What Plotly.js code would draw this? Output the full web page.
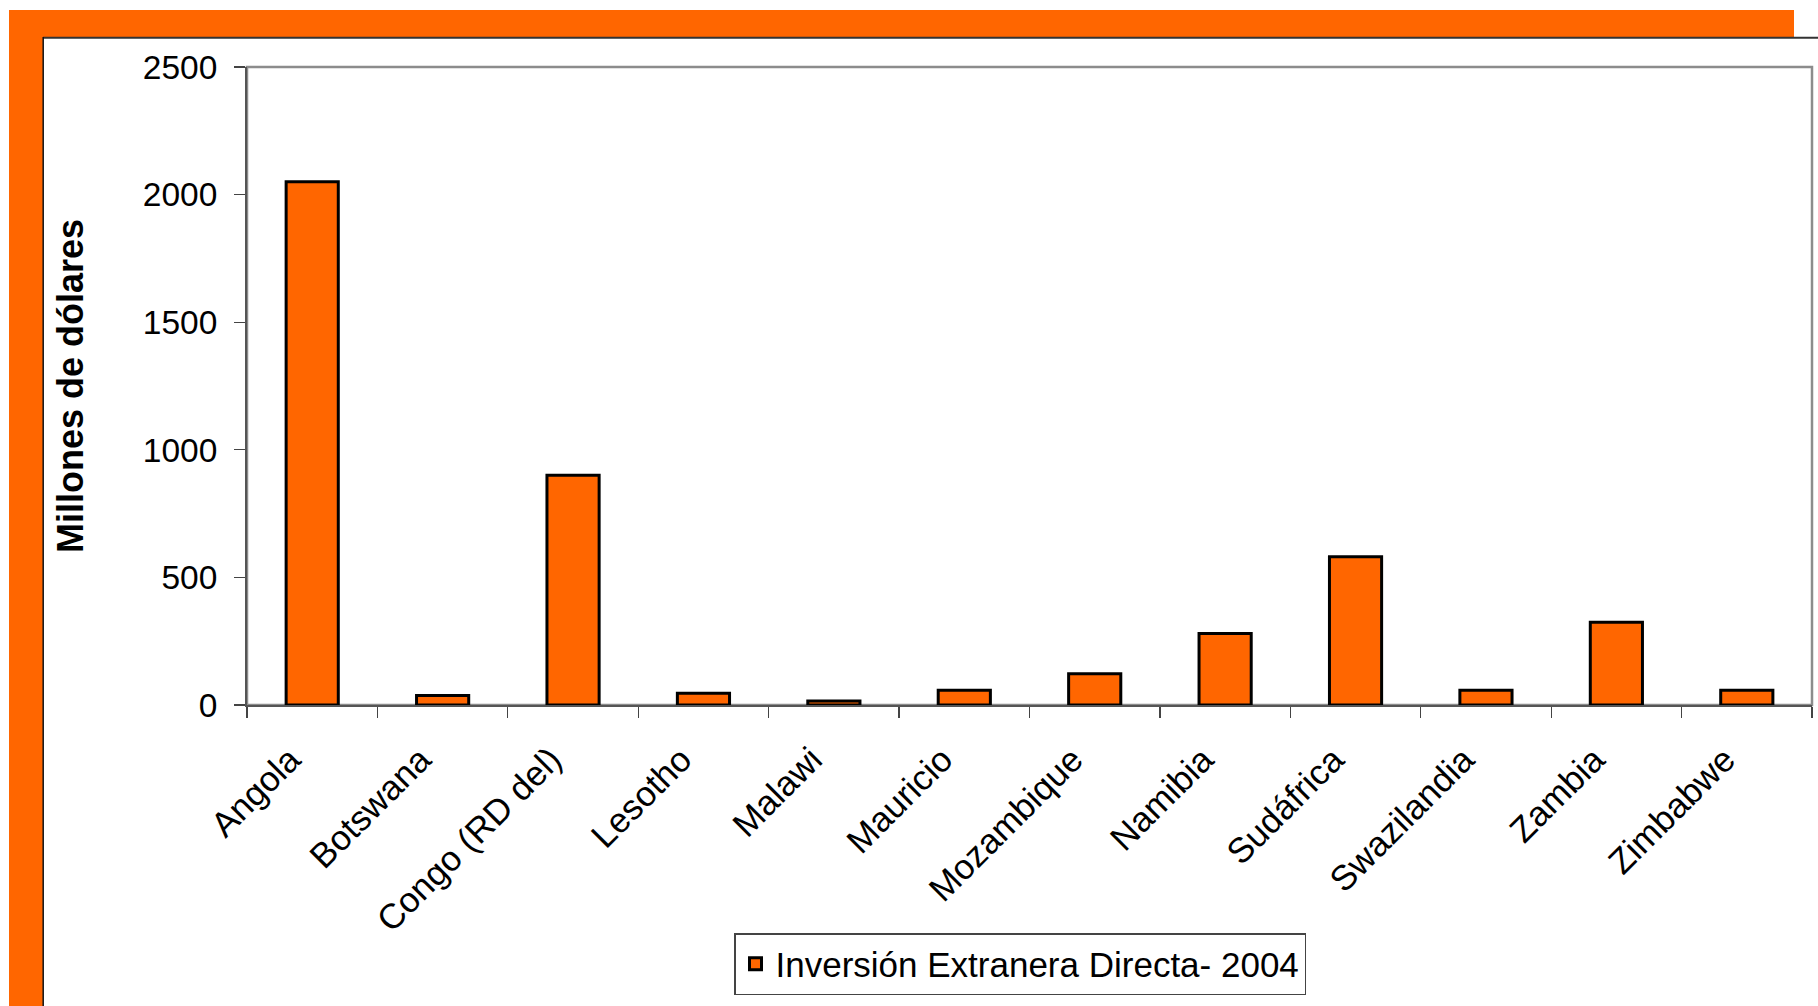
<!DOCTYPE html>
<html>
<head>
<meta charset="utf-8">
<script src="https://cdn.plot.ly/plotly-3.0.1.min.js"></script>
<style>
html,body{margin:0;padding:0;background:#fff;}
#chart{width:1818px;height:1006px;}
</style>
</head>
<body>
<div id="chart"></div>
<script>
const countries = ["Angola","Botswana","Congo (RD del)","Lesotho","Malawi","Mauricio","Mozambique","Namibia","Sudáfrica","Swazilandia","Zambia","Zimbabwe"];
const fdi2004 = [2050, 37, 900, 46, 16, 58, 122, 280, 581, 58, 324, 58];
const seriesName = "Inversión Extranera Directa- 2004";
const yTickVals = [0, 500, 1000, 1500, 2000, 2500];
const yTitle = "Millones de dólares";

const W = 1818, H = 1006;
const M = {l: 247, r: 6, t: 67, b: 301};
const PW = W - M.l - M.r, PH = H - M.t - M.b;
function px(x){ return (x - M.l) / PW; }
function py(y){ return (H - M.b - y) / PH; }

const ORANGE = "#FF6600";
const FONT = "Liberation Sans, Arial, sans-serif";

const frameShapes = [
  {type:"rect", xref:"paper", yref:"paper", x0:px(9), x1:px(1794), y0:py(37), y1:py(10), fillcolor:ORANGE, line:{width:0}},
  {type:"rect", xref:"paper", yref:"paper", x0:px(9), x1:px(43), y0:py(1010), y1:py(10), fillcolor:ORANGE, line:{width:0}},
  {type:"line", xref:"paper", yref:"paper", x0:px(43), x1:px(1818), y0:py(37.7), y1:py(37.7), line:{color:"#333", width:2}},
  {type:"line", xref:"paper", yref:"paper", x0:px(43.2), x1:px(43.2), y0:py(37), y1:py(1010), line:{color:"#111", width:1.5}},
  {type:"rect", xref:"paper", yref:"paper", x0:0, x1:1, y0:0, y1:1, line:{color:"#8c8c8c", width:2.5}, layer:"below"}
];

const trace = {
  type: "bar",
  x: countries,
  y: fdi2004,
  name: seriesName,
  marker: {color: ORANGE, line: {color: "#000", width: 3}},
  showlegend: true,
  hoverinfo: "x+y"
};

const layout = {
  width: W, height: H,
  margin: M,
  paper_bgcolor: "#fff",
  plot_bgcolor: "#fff",
  font: {family: FONT, size: 33, color: "#000"},
  bargap: 0.6,
  showlegend: true,
  xaxis: {
    type: "category",
    tickangle: -45,
    ticks: "outside",
    tickson: "boundaries",
    ticklen: 11,
    tickcolor: "#444",
    tickwidth: 1.2,
    showline: true,
    linecolor: "#555",
    linewidth: 2,
    showgrid: false,
    tickfont: {family: FONT, size: 35, color: "#000"},
    ticklabelstandoff: 18,
    ticklabelshift: -22
  },
  yaxis: {
    range: [0, 2500],
    tickvals: yTickVals,
    ticks: "outside",
    ticklen: 11,
    tickcolor: "#444",
    tickwidth: 1.2,
    showline: true,
    linecolor: "#555",
    linewidth: 2,
    showgrid: false,
    zeroline: false,
    tickfont: {family: FONT, size: 33.5, color: "#000"},
    ticklabelstandoff: 10,
    title: {text: yTitle, font: {family: FONT, size: 36, color: "#000", weight: "bold"}, standoff: 48}
  },
  legend: {
    x: px(1020), xanchor: "center",
    y: py(933), yanchor: "top",
    bordercolor: "#444", borderwidth: 1.5,
    bgcolor: "#fff",
    font: {family: FONT, size: 35, color: "#000"}
  },
  shapes: frameShapes
};

Plotly.newPlot("chart", [trace], layout, {displayModeBar: false, staticPlot: true});
</script>
</body>
</html>
